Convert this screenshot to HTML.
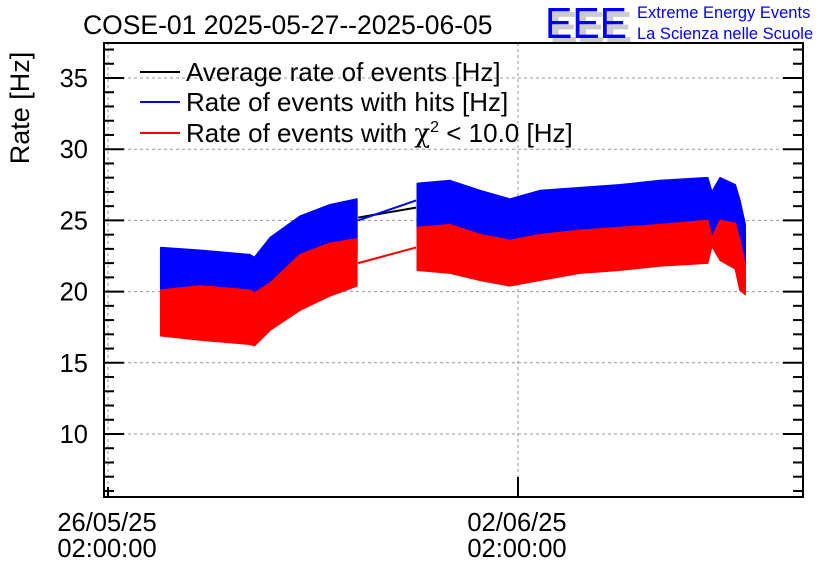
<!DOCTYPE html>
<html><head><meta charset="utf-8">
<style>
body{margin:0;background:#fff;}
svg{display:block;font-family:"Liberation Sans",sans-serif;}
</style></head>
<body>
<svg id="chart" width="836" height="572" viewBox="0 0 836 572">
<rect width="836" height="572" fill="#fff"/>
<text x="83" y="34" font-size="26.5">COSE-01 2025-05-27--2025-06-05</text>
<g>
<text x="550" y="42" font-size="44" fill="#ccc" font-weight="bold" textLength="82" lengthAdjust="spacingAndGlyphs">EEE</text>
<text x="545" y="38" font-size="44" fill="#0000ff" textLength="82" lengthAdjust="spacingAndGlyphs">EEE</text>
<text x="637" y="18" font-size="16.5" fill="#0000ff">Extreme Energy Events</text>
<text x="637" y="39" font-size="16.5" fill="#0000ff">La Scienza nelle Scuole</text>
</g>
<text transform="translate(29,108) rotate(-90)" text-anchor="middle" font-size="27">Rate [Hz]</text>
<g id="grid"></g>
<g id="series"></g>
<g id="axes"></g>
<g>
<g><line x1="140" y1="72" x2="180" y2="72" stroke="#000" stroke-width="2"/><text x="186" y="81" font-size="26">Average rate of events [Hz]</text></g>
<g><line x1="140" y1="102" x2="180" y2="102" stroke="#0000ff" stroke-width="2"/><text x="186" y="111" font-size="26">Rate of events with hits [Hz]</text></g>
<g><line x1="140" y1="133" x2="180" y2="133" stroke="#ff0000" stroke-width="2"/><text x="186" y="142" font-size="26">Rate of events with <tspan font-family="'DejaVu Serif',serif">χ</tspan><tspan dy="-10" font-size="16">2</tspan><tspan dy="10"> &lt; 10.0 [Hz]</tspan></text></g>
</g>
</svg>
<script>
// days since 26/05/25 02:00:00
const seg1Days  = [0.9, 1.57, 2.42, 2.5, 2.77, 3.28, 3.79, 4.25];
const seg1BlueLo= [19.6,19.3,19.1,18.8,20.0,21.2,21.9,22.8];
const seg1BlueHi= [23.1,22.9,22.6,22.4,23.8,25.3,26.1,26.5];
const seg1RedLo = [16.9,16.6,16.3,16.2,17.3,18.7,19.7,20.4];
const seg1RedHi = [20.1,20.4,20.1,19.9,20.6,22.6,23.4,23.7];
const seg2Days  = [5.28,5.84,6.35,6.86,7.38,8.06,8.74,9.42,10.24,10.31,10.45,10.71,10.79,10.88];
const seg2BlueLo= [24.5,24.2,23.5,22.8,23.3,23.8,24.0,24.2,24.7,24.0,24.9,24.2,22.8,22.0];
const seg2BlueHi= [27.6,27.8,27.1,26.5,27.1,27.3,27.5,27.8,28.0,27.0,28.0,27.5,26.4,24.7];
const seg2RedLo = [21.5,21.3,20.8,20.4,20.8,21.3,21.5,21.8,22.0,23.2,22.2,21.6,20.1,19.8];
const seg2RedHi = [24.5,24.7,24.0,23.6,24.0,24.3,24.5,24.7,25.0,23.8,25.0,24.8,23.6,21.9];
const gapDays = [4.27, 5.26];
const gapBlue = [25.0, 26.4];
const gapAvg  = [25.2, 25.9];
const gapRed  = [22.0, 23.1];
const yTicks = [10,15,20,25,30,35];
const xTickDays = [0, 7];
const xTickLabels = [["26/05/25","02:00:00"],["02/06/25","02:00:00"]];

const L=104,R=803,T=43,B=497;
const X=d=>108+d*58.57;
const Y=v=>434-(v-10)*14.24;
const NS='http://www.w3.org/2000/svg';
function mk(tag,attrs,parent){const e=document.createElementNS(NS,tag);for(const k in attrs)e.setAttribute(k,attrs[k]);parent.appendChild(e);return e;}
const grid=document.getElementById('grid'),ser=document.getElementById('series'),ax=document.getElementById('axes');

yTicks.forEach(v=>{
  const g=mk('line',{x1:L,x2:R,y1:Y(v),y2:Y(v),stroke:'#999','stroke-dasharray':'3,3','stroke-width':1},grid);
  
  
});
xTickDays.forEach(d=>{
  const g=mk('line',{x1:X(d),x2:X(d),y1:T,y2:B,stroke:'#999','stroke-dasharray':'3,3','stroke-width':1},grid);
  
  
});

function band(days,lo,hi,color,name){
  let pts=days.map((d,i)=>X(d)+','+Y(hi[i]));
  for(let i=days.length-1;i>=0;i--)pts.push(X(days[i])+','+Y(lo[i]));
  const p=mk('polygon',{points:pts.join(' '),fill:color,stroke:color,'stroke-width':1.5,'stroke-linejoin':'round'},ser);
  
  
}
function line(days,vals,color,name){
  const p=mk('polyline',{points:days.map((d,i)=>X(d)+','+Y(vals[i])).join(' '),fill:'none',stroke:color,'stroke-width':2},ser);
  
  
}
band(seg1Days,seg1BlueLo,seg1BlueHi,'#0000ff','hits-band-1');
band(seg2Days,seg2BlueLo,seg2BlueHi,'#0000ff','hits-band-2');
band(seg1Days,seg1RedLo,seg1RedHi,'#ff0000','chi2-band-1');
band(seg2Days,seg2RedLo,seg2RedHi,'#ff0000','chi2-band-2');
line(gapDays,gapAvg,'#000','average-gap-line');
line(gapDays,gapBlue,'#0000ff','hits-gap-line');
line(gapDays,gapRed,'#ff0000','chi2-gap-line');

const frame=mk('rect',{x:L,y:T,width:R-L,height:B-T,fill:'none',stroke:'#000','stroke-width':2},ax);


for(let v=6;v<=37;v++){
  const len=(v%5===0)?20:10;
  mk('line',{x1:L,x2:L+len,y1:Y(v),y2:Y(v),stroke:'#000','stroke-width':2},ax);
  mk('line',{x1:R-len,x2:R,y1:Y(v),y2:Y(v),stroke:'#000','stroke-width':2},ax);
}
yTicks.forEach(v=>{
  const t=mk('text',{x:88,y:Y(v)+9,'text-anchor':'end','font-size':25.5},ax);
  t.textContent=v;
  
  
});
xTickDays.forEach((d,i)=>{
  mk('line',{x1:X(d),x2:X(d),y1:B-(i===0?10:20),y2:B,stroke:'#000','stroke-width':2},ax);
  const t=mk('text',{x:X(d)-1,y:531,'text-anchor':'middle','font-size':25.5},ax);
  t.textContent=xTickLabels[i][0];
  
  
  const t2=mk('text',{x:X(d)-1,y:557,'text-anchor':'middle','font-size':25.5},ax);
  t2.textContent=xTickLabels[i][1];
  
  
});
</script>
</body></html>
